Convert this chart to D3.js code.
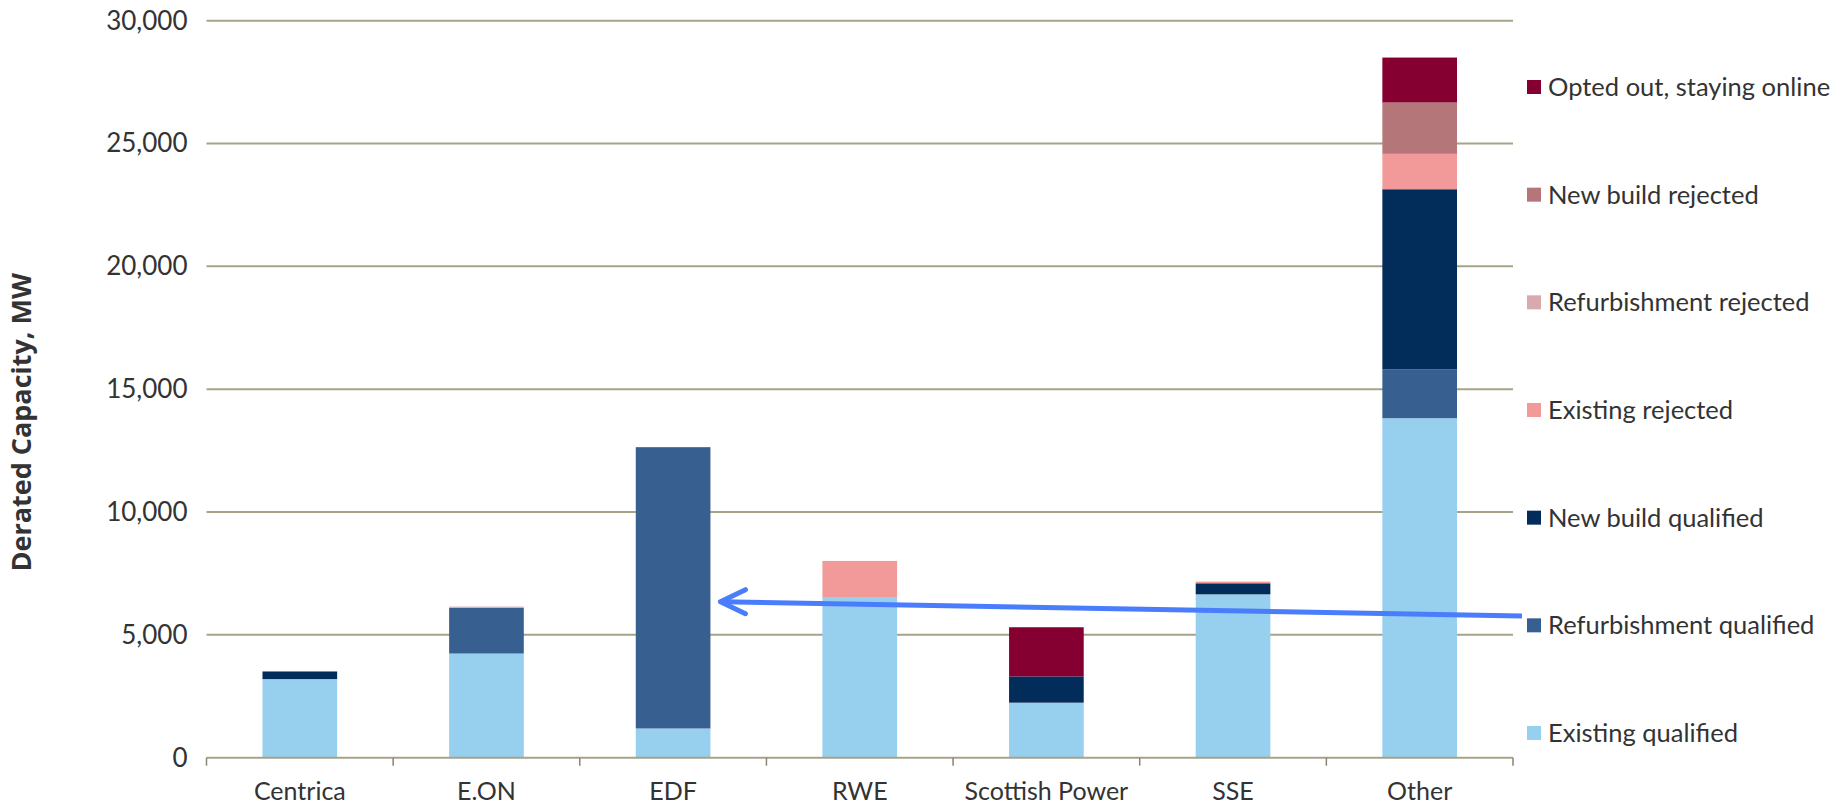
<!DOCTYPE html>
<html>
<head>
<meta charset="utf-8">
<script src="https://cdn.jsdelivr.net/npm/d3@7"></script>
<style>
  body { margin: 0; background: #fff; }
  svg { display: block; }
  text { font-family: Lato, "Open Sans", sans-serif; fill: #333; }
</style>
</head>
<body>
<svg id="chart"></svg>
<script>
// categories and series (MW)
const companies = ['Centrica', 'E.ON', 'EDF', 'RWE', 'Scottish Power', 'SSE', 'Other'];
const existingQualified = [3200, 4240, 1190, 6510, 2240, 6650, 13820];
const refurbQualified   = [0, 1860, 11450, 0, 0, 0, 1990];
const newBuildQualified = [310, 0, 0, 0, 1070, 450, 7330];
const existingRejected  = [0, 0, 0, 1500, 0, 70, 1440];
const refurbRejected    = [0, 50, 0, 0, 0, 0, 0];
const newBuildRejected  = [0, 0, 0, 0, 0, 0, 2090];
const optedOut          = [0, 0, 0, 0, 2000, 0, 1830];
const yTicks = [0, 5000, 10000, 15000, 20000, 25000, 30000];

const seriesNames = ['Existing qualified', 'Refurbishment qualified', 'New build qualified',
  'Existing rejected', 'Refurbishment rejected', 'New build rejected', 'Opted out, staying online'];
const seriesValues = [existingQualified, refurbQualified, newBuildQualified,
  existingRejected, refurbRejected, newBuildRejected, optedOut];
const colors = ['#97cfee', '#375f8f', '#022c5a', '#f29a9a', '#d8a9ae', '#b5767a', '#850030'];

// arrow annotation: from right of plot pointing at EDF bar
const arrowFrom = 5770, arrowTo = 6350;

const width = 1847, height = 805;
const margin = {top: 20.7, right: 334, bottom: 47.3, left: 206.5};

const svg = d3.select('#chart').attr('width', width).attr('height', height);

const rows = companies.map((c, i) => {
  const r = {company: c};
  seriesNames.forEach((s, j) => r[s] = seriesValues[j][i]);
  return r;
});
const stacked = d3.stack().keys(seriesNames)(rows);

const x = d3.scaleBand()
  .domain(companies)
  .range([margin.left, width - margin.right])
  .paddingInner(0.6)
  .paddingOuter(0.3);

const y = d3.scaleLinear()
  .domain([0, 30000])
  .range([height - margin.bottom, margin.top]);

const color = d3.scaleOrdinal(seriesNames, colors);

//gridlines
svg.append('g')
  .selectAll('line')
  .data(yTicks.filter(d => d > 0))
  .join('line')
    .attr('x1', margin.left)
    .attr('x2', width - margin.right)
    .attr('y1', d => y(d))
    .attr('y2', d => y(d))
    .attr('stroke', '#a8a288')
    .attr('stroke-width', 2);

//y labels
const yAxis = svg.append('g')
  .attr('transform', `translate(${margin.left},0)`)
  .call(d3.axisLeft(y).tickValues(yTicks).tickFormat(d3.format(',')).tickSize(0).tickPadding(19));
yAxis.select('.domain').remove();
yAxis.selectAll('text')
  .style('font-size', '26px')
  .style('font-family', 'Lato, sans-serif')
  .attr('fill', '#3a3a3a');

//bars
svg.append('g')
  .selectAll('g')
  .data(stacked)
  .join('g')
    .attr('fill', d => color(d.key))
  .selectAll('rect')
  .data(d => d)
  .join('rect')
    .attr('x', d => x(d.data.company))
    .attr('width', x.bandwidth())
    .attr('y', d => y(d[1]))
    .attr('height', d => y(d[0]) - y(d[1]));

//x axis with boundary ticks
const step = x.step();
const xAxis = svg.append('g')
  .attr('transform', `translate(0,${y(0)})`);
xAxis.append('line')
  .attr('x1', margin.left)
  .attr('x2', width - margin.right)
  .attr('stroke', '#a8a288')
  .attr('stroke-width', 2);
xAxis.selectAll('.tick')
  .data(d3.range(companies.length + 1))
  .join('line')
    .attr('x1', i => margin.left + i * step)
    .attr('x2', i => margin.left + i * step)
    .attr('y1', 0)
    .attr('y2', 8)
    .attr('stroke', '#8a8570')
    .attr('stroke-width', 1.5);
xAxis.selectAll('text')
  .data(companies)
  .join('text')
    .attr('x', d => x(d) + x.bandwidth() / 2)
    .attr('y', 42)
    .attr('text-anchor', 'middle')
    .style('font-size', '25px')
    .text(d => d);

//y axis title
svg.append('text')
  .attr('transform', `translate(31,${(y(0) + y(30000)) / 2 + 33}) rotate(-90)`)
  .attr('text-anchor', 'middle')
  .style('font-family', '"Open Sans", sans-serif')
  .style('font-weight', 'bold')
  .style('font-size', '27px')
  .attr('fill', '#111')
  .text('Derated Capacity, MW');

//legend, top to bottom reversed order
const legendNames = seriesNames.slice().reverse();
const ly = d3.scalePoint().domain(legendNames).range([87, 733]);
const legend = svg.append('g')
  .selectAll('g')
  .data(legendNames)
  .join('g')
    .attr('transform', d => `translate(1527,${ly(d)})`);
legend.append('rect')
  .attr('x', 0)
  .attr('y', -7)
  .attr('width', 14)
  .attr('height', 14)
  .attr('fill', d => color(d));
legend.append('text')
  .attr('x', 21)
  .attr('dy', '0.35em')
  .style('font-size', '25.5px')
  .attr('fill', '#222')
  .text(d => d);

//arrow
const ax1 = width - margin.right + 9;
const ax2 = x('EDF') + x.bandwidth() + 10;
const ay1 = y(arrowFrom), ay2 = y(arrowTo);
const arrowColor = '#4a7dfc';
svg.append('line')
  .attr('x1', ax1).attr('y1', ay1)
  .attr('x2', ax2 + 2).attr('y2', ay2)
  .attr('stroke', arrowColor)
  .attr('stroke-width', 5);
svg.append('path')
  .attr('d', `M${ax2 + 25},${ay2 - 12} L${ax2},${ay2} L${ax2 + 25},${ay2 + 12}`)
  .attr('fill', 'none')
  .attr('stroke', arrowColor)
  .attr('stroke-width', 5)
  .attr('stroke-linecap', 'round')
  .attr('stroke-linejoin', 'round');
</script>
</body>
</html>
